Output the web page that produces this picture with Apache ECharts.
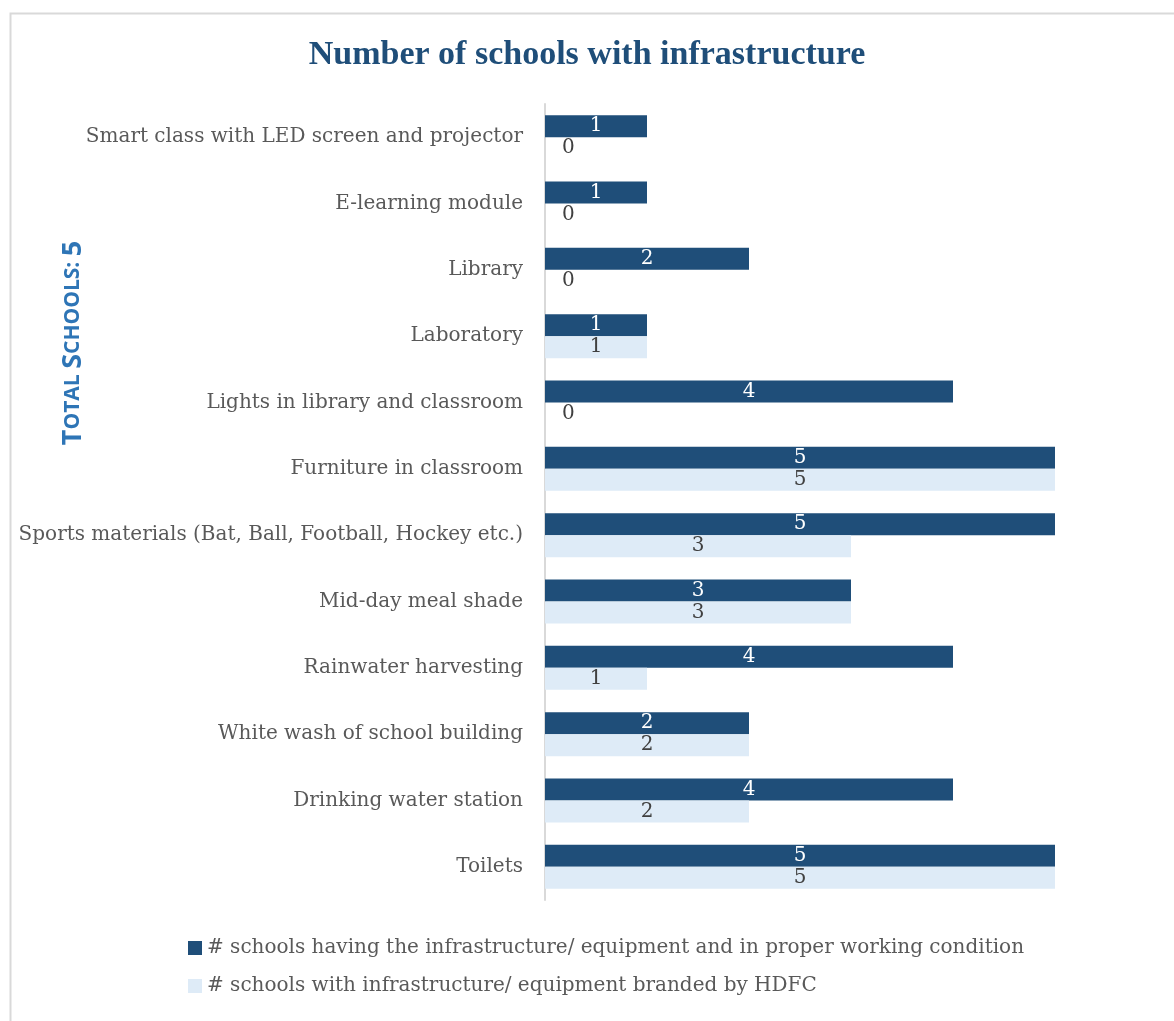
<!DOCTYPE html>
<html>
<head>
<meta charset="utf-8">
<title>Number of schools with infrastructure</title>
<script src="https://cdn.jsdelivr.net/npm/echarts@6/dist/echarts.min.js"></script>
<style>
  html, body { margin: 0; padding: 0; background: #ffffff; }
  #chart { width: 1174px; height: 1021px; }
</style>
</head>
<body>
<div id="chart"></div>
<script>
// Infrastructure items, listed top to bottom
const categories = [
  'Smart class with LED screen and projector',
  'E-learning module',
  'Library',
  'Laboratory',
  'Lights in library and classroom',
  'Furniture in classroom',
  'Sports materials (Bat, Ball, Football, Hockey etc.)',
  'Mid-day meal shade',
  'Rainwater harvesting',
  'White wash of school building',
  'Drinking water station',
  'Toilets'
];

// Schools with the item in proper working condition
const workingValues = [1, 1, 2, 1, 4, 5, 5, 3, 4, 2, 4, 5];

// Schools with the item branded by HDFC
const brandedValues = [0, 0, 0, 1, 0, 5, 3, 3, 1, 2, 2, 5];

const seriesNames = [
  '# schools having the infrastructure/ equipment and in proper working condition',
  '# schools with infrastructure/ equipment branded by HDFC'
];

const serif = '"DejaVu Serif", "Liberation Serif", serif';
const titleSerif = '"Liberation Serif", "DejaVu Serif", serif';
const darkBlue = '#1f4e79';
const paleBlue = '#deebf7';

// Zero-valued bars have no width, so their label sits just right of the axis
function withLabels(values, color) {
  return values.map(v => v === 0
    ? { value: v, label: { position: 'right', distance: 17, color: color } }
    : { value: v });
}

const chart = echarts.init(document.getElementById('chart'), null, { renderer: 'canvas' });

chart.setOption({
  backgroundColor: '#ffffff',
  animation: false,
  title: {
    text: 'Number of schools with infrastructure',
    left: 'center',
    top: 33,
    textStyle: { fontFamily: titleSerif, fontWeight: 'bold', fontSize: 34, color: darkBlue }
  },
  graphic: [
    {
      type: 'rect',
      shape: { x: 10.5, y: 13.5, width: 1200, height: 1100 },
      style: { fill: 'none', stroke: '#d9d9d9', lineWidth: 2 },
      silent: true
    },
    {
      type: 'text',
      x: 73,
      y: 343,
      rotation: Math.PI / 2,
      style: {
        text: '{big|T}{small|OTAL }{big|S}{small|CHOOLS: }{big|5}',
        align: 'center',
        verticalAlign: 'middle',
        rich: {
          big: { fontFamily: '"Open Sans", "Noto Sans", sans-serif', fontWeight: 'bold', fontSize: 27, fill: '#2e75b6' },
          small: { fontFamily: '"Open Sans", "Noto Sans", sans-serif', fontWeight: 'bold', fontSize: 21, fill: '#2e75b6' }
        }
      }
    }
  ],
  legend: {
    orient: 'vertical',
    left: 183,
    top: 933,
    itemGap: 18,
    itemWidth: 14,
    itemHeight: 14,
    icon: 'rect',
    textStyle: { fontFamily: serif, fontSize: 20, color: '#595959' },
    data: seriesNames
  },
  grid: { left: 545, right: 119, top: 104, bottom: 121, containLabel: false },
  xAxis: {
    type: 'value',
    min: 0,
    max: 5,
    show: false
  },
  yAxis: {
    type: 'category',
    inverse: true,
    data: categories,
    axisLine: { show: true, lineStyle: { color: '#d9d9d9', width: 2 } },
    axisTick: { show: false },
    axisLabel: { fontFamily: serif, fontSize: 20, color: '#595959', margin: 22 }
  },
  series: [
    {
      name: seriesNames[0],
      type: 'bar',
      data: withLabels(workingValues, '#ffffff'),
      barGap: '0%',
      barCategoryGap: '33.6%',
      itemStyle: { color: darkBlue },
      label: {
        show: true,
        position: 'inside',
        fontFamily: serif,
        fontSize: 20,
        color: '#ffffff'
      }
    },
    {
      name: seriesNames[1],
      type: 'bar',
      data: withLabels(brandedValues, '#404040'),
      barGap: '0%',
      barCategoryGap: '33.6%',
      itemStyle: { color: paleBlue },
      label: {
        show: true,
        position: 'inside',
        fontFamily: serif,
        fontSize: 20,
        color: '#404040'
      }
    }
  ]
});
</script>
</body>
</html>
